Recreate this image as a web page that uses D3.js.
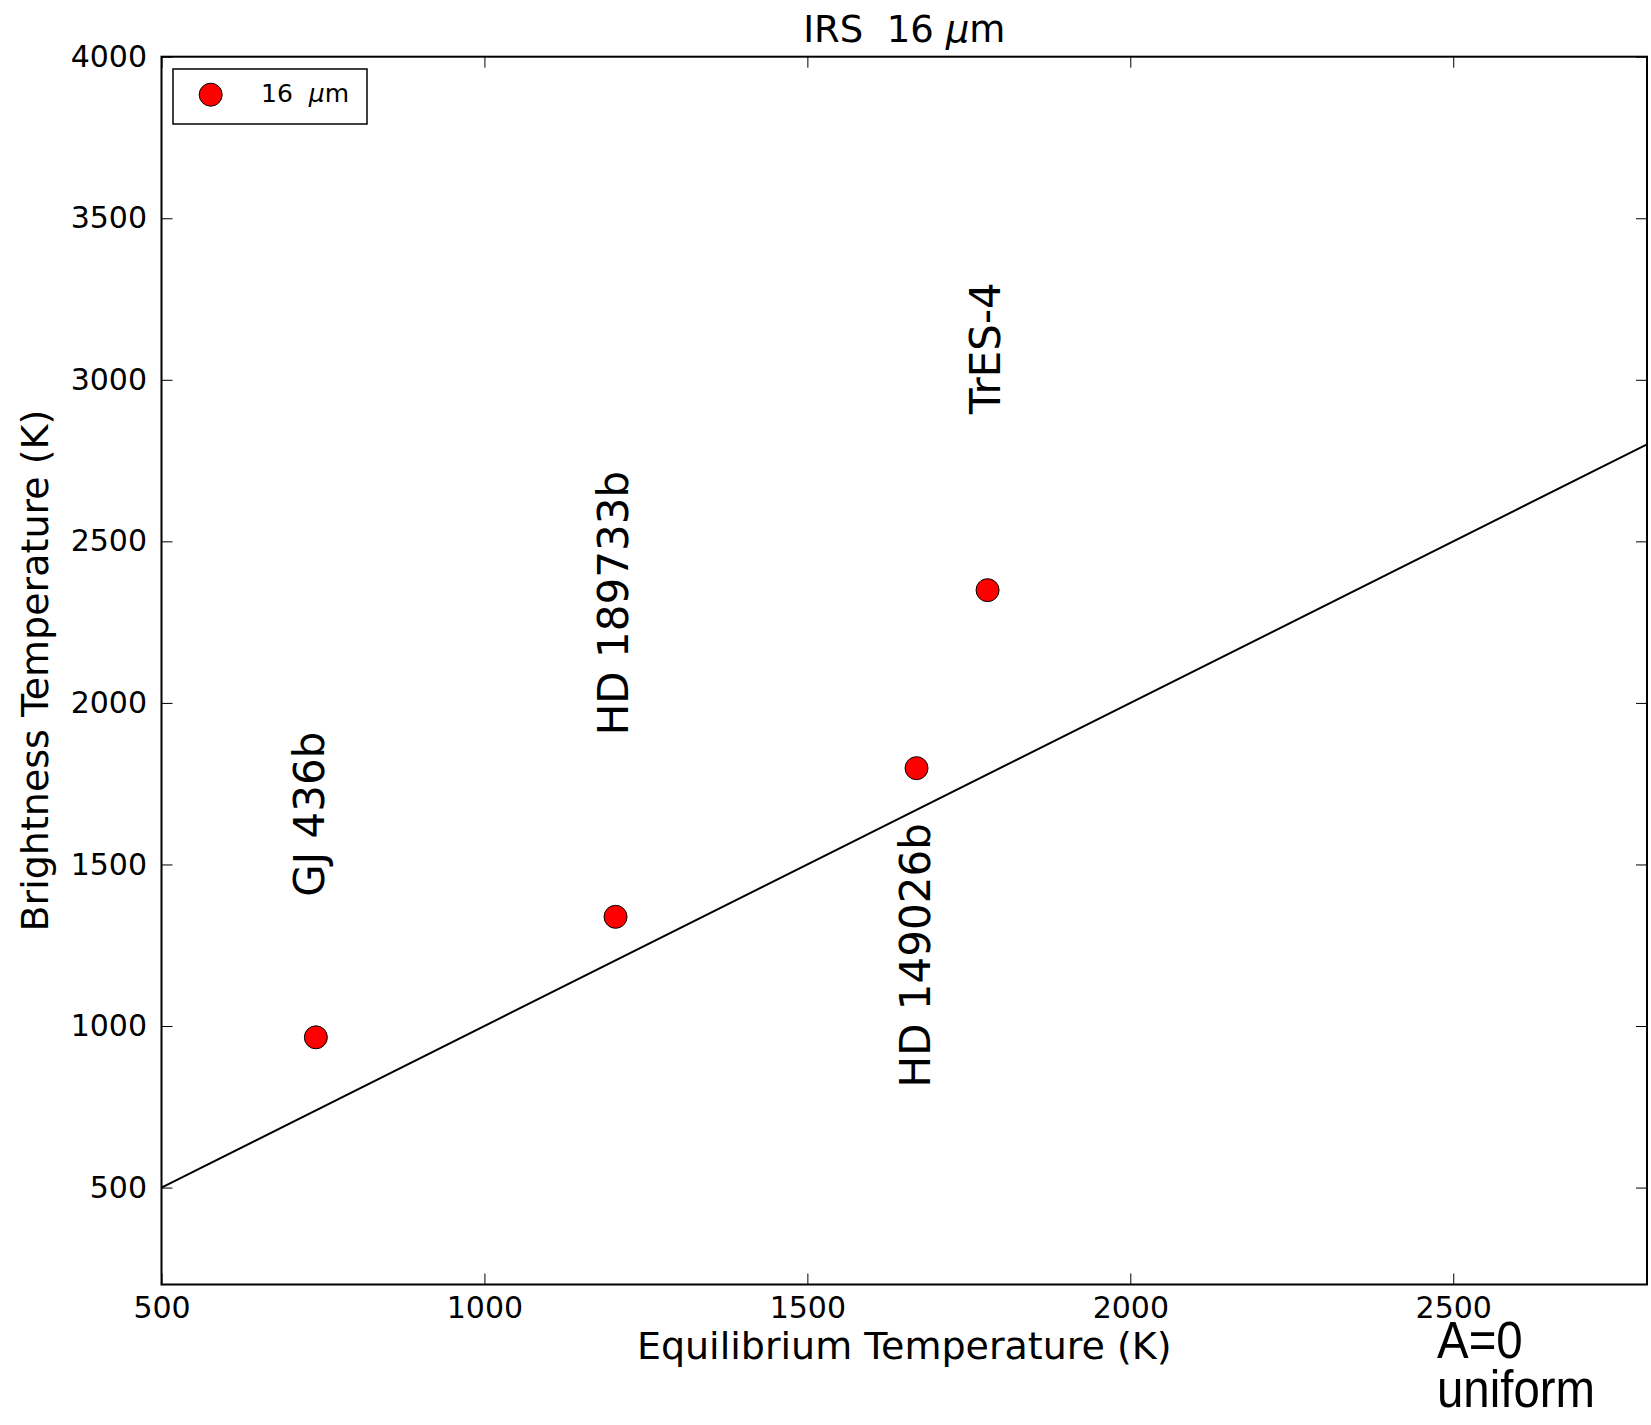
<!DOCTYPE html>
<html>
<head>
<meta charset="utf-8">
<script src="https://cdn.jsdelivr.net/npm/d3@7"></script>
<style>
  html, body { margin: 0; padding: 0; background: #fff; }
  svg { display: block; }
  text { white-space: pre; }
</style>
</head>
<body>
<svg id="chart" width="1651" height="1425"></svg>
<script>
// ---- data ----
const planets    = ["GJ 436b", "HD 189733b", "HD 149026b", "TrES-4"];
const eqTemp     = [739, 1203, 1669, 1779];        // Equilibrium temperature (K)
const brightTemp = [965, 1338, 1798, 2349];        // 16 micron brightness temperature (K)
const labelX     = [752, 1222, 1690, 1798];        // label anchor (data coords)
const labelY     = [1400, 1900, 810, 2894];
const lineX      = [500, 2800];                    // T_b = T_eq reference line
const lineY      = [500, 2800];
const xTicks     = [500, 1000, 1500, 2000, 2500];
const yTicks     = [500, 1000, 1500, 2000, 2500, 3000, 3500, 4000];
const xDomain    = [500, 2800];
const yDomain    = [200, 4000];

// ---- layout ----
const L = 161.5, R = 1647, T = 56.7, B = 1284.5;
const FONT = "'DejaVu Sans', sans-serif";

const svg = d3.select("#chart");
const x = d3.scaleLinear().domain(xDomain).range([L, R]);
const y = d3.scaleLinear().domain(yDomain).range([B, T]);

// reference line
svg.append("path")
  .datum(lineX.map((v, i) => [v, lineY[i]]))
  .attr("d", d3.line().x(d => x(d[0])).y(d => y(d[1])))
  .attr("fill", "none").attr("stroke", "#000").attr("stroke-width", 2);

// axes
function styleAxis(g) {
  g.select(".domain").remove();
  g.selectAll(".tick line").attr("stroke", "#000").attr("stroke-width", 1);
  g.selectAll(".tick text").attr("fill", "#000");
  g.attr("font-family", FONT).attr("font-size", 30);
}
svg.append("g").attr("transform", `translate(0,${B})`)
  .call(d3.axisBottom(x).tickValues(xTicks).tickFormat(d3.format("d"))
        .tickSizeInner(-11).tickSizeOuter(0).tickPadding(12))
  .call(styleAxis);
svg.append("g").attr("transform", `translate(0,${T})`)
  .call(d3.axisTop(x).tickValues(xTicks).tickFormat("")
        .tickSizeInner(-11).tickSizeOuter(0))
  .call(styleAxis);
svg.append("g").attr("transform", `translate(${L},0)`)
  .call(d3.axisLeft(y).tickValues(yTicks).tickFormat(d3.format("d"))
        .tickSizeInner(-11).tickSizeOuter(0).tickPadding(14.5))
  .call(styleAxis);
svg.append("g").attr("transform", `translate(${R},0)`)
  .call(d3.axisRight(y).tickValues(yTicks).tickFormat("")
        .tickSizeInner(-11).tickSizeOuter(0))
  .call(styleAxis);

// frame
svg.append("rect")
  .attr("x", L).attr("y", T).attr("width", R - L).attr("height", B - T)
  .attr("fill", "none").attr("stroke", "#000").attr("stroke-width", 2);

// points
svg.append("g").selectAll("circle")
  .data(eqTemp.map((v, i) => [v, brightTemp[i]]))
  .join("circle")
  .attr("cx", d => x(d[0])).attr("cy", d => y(d[1]))
  .attr("r", 11.5)
  .attr("fill", "#ff0000").attr("stroke", "#000").attr("stroke-width", 1);

// planet labels
svg.append("g").selectAll("text")
  .data(planets)
  .join("text")
  .attr("transform", (d, i) => `translate(${x(labelX[i])},${y(labelY[i])}) rotate(-90)`)
  .attr("font-family", FONT).attr("font-size", 42).attr("fill", "#000")
  .attr("text-anchor", "start")
  .text(d => d);

// title
const title = svg.append("text")
  .attr("x", (L + R) / 2).attr("y", 42)
  .attr("text-anchor", "middle")
  .attr("font-family", FONT).attr("font-size", 37).attr("fill", "#000");
title.append("tspan").text("IRS  16 ");
title.append("tspan").attr("font-style", "italic").text("\u03bc");
title.append("tspan").text("m");

// axis labels
svg.append("text")
  .attr("x", (L + R) / 2).attr("y", 1359)
  .attr("text-anchor", "middle")
  .attr("font-family", FONT).attr("font-size", 38).attr("fill", "#000")
  .text("Equilibrium Temperature (K)");
svg.append("text")
  .attr("transform", `translate(48,${(T + B) / 2}) rotate(-90)`)
  .attr("text-anchor", "middle")
  .attr("font-family", FONT).attr("font-size", 38).attr("fill", "#000")
  .text("Brightness Temperature (K)");

// legend
const lg = svg.append("g");
lg.append("rect").attr("x", 173).attr("y", 69).attr("width", 194).attr("height", 55)
  .attr("fill", "#fff").attr("stroke", "#000").attr("stroke-width", 1.5);
lg.append("circle").attr("cx", 210.7).attr("cy", 94.7).attr("r", 11.5)
  .attr("fill", "#ff0000").attr("stroke", "#000").attr("stroke-width", 1);
const lt = lg.append("text").attr("x", 261).attr("y", 102)
  .attr("font-family", FONT).attr("font-size", 25).attr("fill", "#000");
lt.append("tspan").text("16  ");
lt.append("tspan").attr("font-style", "italic").text("\u03bc");
lt.append("tspan").text("m");

// annotation
const ann = svg.append("g").attr("font-family", "'Liberation Sans', Arial, sans-serif")
  .attr("font-size", 51).attr("fill", "#000");
ann.append("text").attr("transform", "translate(1437,1358) scale(0.93,1)").text("A=0");
ann.append("text").attr("transform", "translate(1437,1407) scale(0.93,1)").text("uniform");
</script>
</body>
</html>
